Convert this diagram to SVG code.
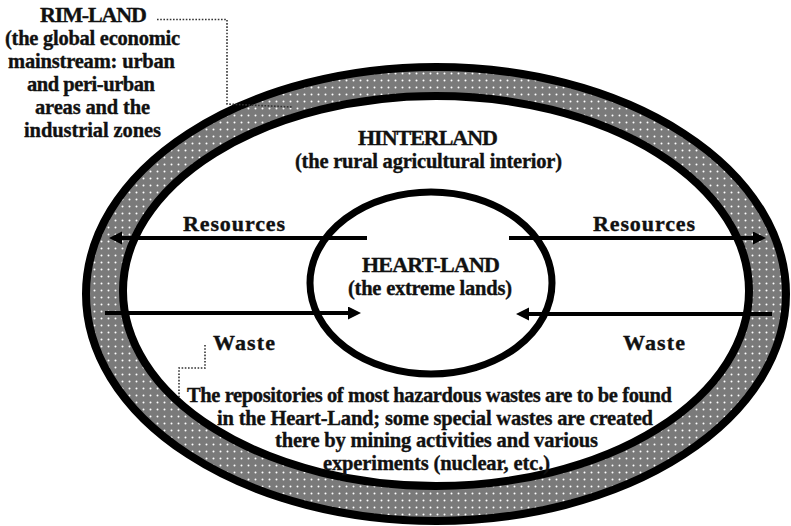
<svg xmlns="http://www.w3.org/2000/svg" width="791" height="526" viewBox="0 0 791 526">
<style>
text{font-family:"Liberation Serif","Times New Roman",serif;font-weight:bold;fill:#111;stroke:#111;stroke-width:0.35;text-anchor:middle}
.h{font-size:22px}
.b{font-size:20.5px}
.ring{stroke:#000;stroke-width:8}
.arr{stroke:#000;stroke-width:4;fill:none;marker-end:url(#ah)}
.lead{stroke:#333;stroke-width:1.6;stroke-dasharray:1.6 1.6;fill:none}
</style>
<defs>
<pattern id="dots" width="7" height="7" patternUnits="userSpaceOnUse">
<rect width="7" height="7" fill="#7a7a7a"/>
<circle cx="3.5" cy="3.5" r="1" fill="#fff"/>
</pattern>
<marker id="ah" markerUnits="userSpaceOnUse" markerWidth="14" markerHeight="14" refX="1" refY="6.5" orient="auto">
<path d="M0,0 L13,6.5 L0,13 Z" fill="#000"/>
</marker>
</defs>

<g id="rim-land">
<ellipse class="ring" cx="436" cy="294" rx="350" ry="227" fill="url(#dots)"/>
</g>
<g id="hinterland">
<ellipse class="ring" cx="436" cy="291" rx="313" ry="195" fill="#fff"/>
<text class="h" x="428" y="145" textLength="140" lengthAdjust="spacing">HINTERLAND</text>
<text class="b" x="428.5" y="168" textLength="267" lengthAdjust="spacing">(the rural agricultural interior)</text>
</g>
<g id="heart-land">
<ellipse cx="431" cy="283" rx="121" ry="91" fill="#fff" stroke="#000" stroke-width="7"/>
</g>

<g id="connectors">
<path class="arr" d="M367,238 H121"/>
<path class="arr" d="M509,238 H754"/>
<path class="arr" d="M105,313 H349"/>
<path class="arr" d="M772,314 H528"/>
<polyline class="lead" points="157,19.5 227,19.5 227,104 292,107"/>
<polyline class="lead" points="205,345 205,368 179,368 179,397"/>
</g>

<g id="heart-land-label">
<text class="h" x="431" y="272" textLength="138" lengthAdjust="spacing">HEART-LAND</text>
<text class="b" x="430" y="295" textLength="164" lengthAdjust="spacing">(the extreme lands)</text>
</g>

<g id="rim-land-label">
<text class="h" x="93.5" y="22" textLength="107" lengthAdjust="spacing">RIM-LAND</text>
<text class="b" x="92.5" y="45" textLength="175" lengthAdjust="spacing">(the global economic</text>
<text class="b" x="91.5" y="68" textLength="167" lengthAdjust="spacing">mainstream: urban</text>
<text class="b" x="91" y="91" textLength="128" lengthAdjust="spacing">and peri-urban</text>
<text class="b" x="92.5" y="114" textLength="115" lengthAdjust="spacing">areas and the</text>
<text class="b" x="92.5" y="137" textLength="137" lengthAdjust="spacing">industrial zones</text>
</g>

<g id="flow-labels">
<text class="h" x="234" y="231" textLength="102" lengthAdjust="spacing">Resources</text>
<text class="h" x="644" y="231" textLength="102" lengthAdjust="spacing">Resources</text>
<text class="h" x="244" y="350" textLength="62" lengthAdjust="spacing">Waste</text>
<text class="h" x="654" y="350" textLength="62" lengthAdjust="spacing">Waste</text>
</g>

<g id="note">
<text class="b" x="429.5" y="402" textLength="485" lengthAdjust="spacing">The repositories of most hazardous wastes are to be found</text>
<text class="b" x="435" y="425" textLength="436" lengthAdjust="spacing">in the Heart-Land; some special wastes are created</text>
<text class="b" x="436.5" y="447" textLength="323" lengthAdjust="spacing">there by mining activities and various</text>
<text class="b" x="436.5" y="470" textLength="227" lengthAdjust="spacing">experiments (nuclear, etc.)</text>
</g>
</svg>
